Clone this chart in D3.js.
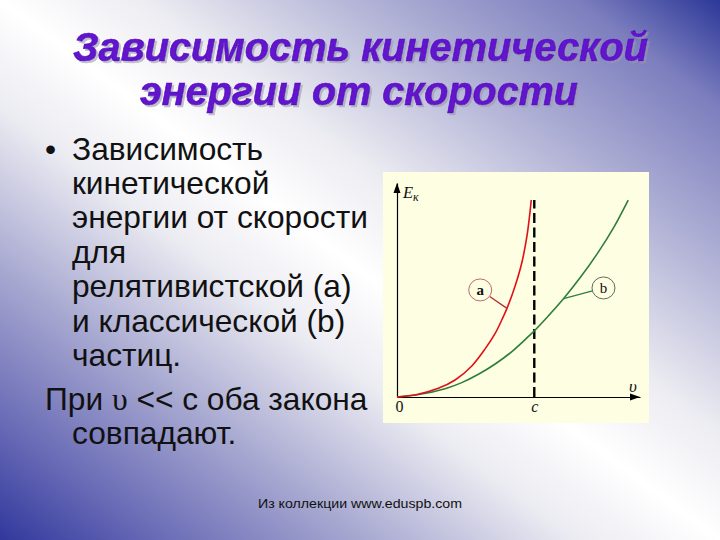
<!DOCTYPE html>
<html><head><meta charset="utf-8">
<script src="https://cdn.jsdelivr.net/npm/d3@7/dist/d3.min.js"></script>
<style>html,body{margin:0;padding:0;background:#fff;}svg{display:block;}</style>
</head><body>
<svg id="chart" width="720" height="540"></svg>
<script>
// ---- text content ----
const titleLines = ["Зависимость кинетической", "энергии от скорости"];
const bodyLines = [
  "Зависимость",
  "кинетической",
  "энергии от скорости",
  "для",
  "релятивистской (a)",
  "и классической (b)",
  "частиц.",
  "При υ << c оба закона",
  "совпадают."
];
const bulletLine = 0;
const outdentLine = 7;
const footerText = "Из коллекции www.eduspb.com";

// ---- chart data (v in units of c, E in arbitrary units) ----
const xTickValues = [0, 1];
const xTickLabels = ["0", "c"];
const yLabel = "E";
const yLabelSub = "к";
const xLabel = "υ";

const relV = [0, 0.131, 0.301, 0.423, 0.545, 0.642, 0.715, 0.764, 0.801, 0.861, 0.910, 0.947, 0.966, 0.978];
const relE = [0, 0.013, 0.057, 0.112, 0.205, 0.318, 0.420, 0.510, 0.585, 0.735, 0.890, 1.065, 1.200, 1.301];

const clsV = [0, 0.168, 0.350, 0.472, 0.593, 0.715, 0.837, 0.958, 0.995, 1.092, 1.214, 1.336, 1.458, 1.579, 1.684];
const clsE = [0, 0.018, 0.055, 0.095, 0.150, 0.218, 0.300, 0.400, 0.432, 0.525, 0.650, 0.790, 0.945, 1.120, 1.300];

const cLineV = [1, 1];
const cLineE = [0, 1.30];

const seriesLabels = ["a", "b"];
const labelPosV = [0.606, 1.504];
const labelPosE = [0.707, 0.720];
const labelTargetV = [0.801, 1.214];
const labelTargetE = [0.585, 0.650];

// ---- drawing ----
const svg = d3.select("#chart");
const W = 720, H = 540;
const defs = svg.append("defs");
const grad = defs.append("linearGradient").attr("id", "bg")
  .attr("x1", 0).attr("y1", 1).attr("x2", 1).attr("y2", 0);
[[0, "#30389c"], [0.1, "#6466b4"], [0.25, "#a6a7d0"], [0.4, "#ebebf2"], [0.5, "#ffffff"],
 [0.6, "#ececf2"], [0.75, "#b2b3d6"], [0.9, "#7c7ebe"], [1, "#2c3898"]]
  .forEach(([o, c]) => grad.append("stop").attr("offset", o).attr("stop-color", c));
const shadow = defs.append("filter").attr("id", "shadow")
  .attr("x", "-5%").attr("y", "-20%").attr("width", "110%").attr("height", "140%");
shadow.append("feDropShadow").attr("dx", 2).attr("dy", 2).attr("stdDeviation", 0.6)
  .attr("flood-color", "#9a98a8").attr("flood-opacity", 0.6);
svg.append("rect").attr("width", W).attr("height", H).attr("fill", "url(#bg)");

// title
const titleFont = "'Liberation Sans', Arial, sans-serif";
const titleBase = [61, 105];
const titleSpan = [[73, 648], [140, 578]];
titleLines.forEach((t, i) => {
  const cx = (titleSpan[i][0] + titleSpan[i][1]) / 2;
  const len = titleSpan[i][1] - titleSpan[i][0];
  svg.append("text").attr("x", cx).attr("y", titleBase[i])
    .attr("text-anchor", "middle").attr("font-family", titleFont)
    .attr("font-size", 41).attr("font-weight", "bold").attr("font-style", "italic")
    .attr("fill", "#6212cc").attr("stroke", "#5a0cc0").attr("stroke-width", 0.7)
    .attr("filter", "url(#shadow)")
    .attr("textLength", len).attr("lengthAdjust", "spacingAndGlyphs").text(t);
});

// body text
const bodyFont = "'Liberation Sans', Arial, sans-serif";
const bodyBase = [160, 194, 228, 263, 297, 332, 366, 410, 444];
const probe = svg.append("text").attr("font-family", bodyFont).attr("font-size", 27).text(bodyLines[2]);
const measured = probe.node().getComputedTextLength();
probe.remove();
const bodySize = 27 * 296 / measured;
bodyLines.forEach((t, i) => {
  const x = i === outdentLine ? 45 : 72;
  const txt = svg.append("text").attr("x", x).attr("y", bodyBase[i])
    .attr("font-family", bodyFont).attr("font-size", bodySize).attr("fill", "#111");
  const parts = t.split("υ");
  parts.forEach((p, j) => {
    if (j > 0) txt.append("tspan").attr("font-family", "'Liberation Serif', 'Times New Roman', serif").text("υ");
    txt.append("tspan").text(p);
  });
  if (i === bulletLine) {
    svg.append("text").attr("x", 45).attr("y", bodyBase[i]).attr("font-family", bodyFont)
      .attr("font-size", bodySize).attr("fill", "#111").text("•");
  }
});

// footer
svg.append("text").attr("x", 258).attr("y", 508).attr("font-family", bodyFont)
  .attr("font-size", 13).attr("fill", "#111")
  .attr("textLength", 204).attr("lengthAdjust", "spacingAndGlyphs").text(footerText);

// chart panel
svg.append("rect").attr("x", 383).attr("y", 172).attr("width", 266).attr("height", 251)
  .attr("fill", "#fefee3");

const x = d3.scaleLinear().domain([0, 1.77]).range([397, 640]);
const y = d3.scaleLinear().domain([0, 1.413]).range([397, 183]);

const serif = "'Liberation Serif', 'Times New Roman', serif";

// axes
const gx = svg.append("g").attr("transform", `translate(0,${y(0)})`)
  .call(d3.axisBottom(x).tickValues(xTickValues).tickFormat((d, i) => xTickLabels[i])
    .tickSize(0).tickSizeOuter(0).tickPadding(4));
gx.select(".domain").attr("stroke", "#000").attr("stroke-width", 1.2);
gx.selectAll(".tick text").attr("font-family", serif).attr("font-size", 16).attr("fill", "#111")
  .attr("font-style", (d, i) => i === 1 ? "italic" : "normal")
  .attr("dx", (d, i) => i === 0 ? 2 : 0);

const gy = svg.append("g").attr("transform", `translate(${x(0)},0)`)
  .call(d3.axisLeft(y).tickValues([]).tickSizeOuter(0));
gy.select(".domain").attr("stroke", "#000").attr("stroke-width", 1.2);

// arrowheads
const ax = x(1.77), ay = y(0);
svg.append("path").attr("d", `M${ax},${ay} L${ax - 10},${ay - 3.5} L${ax - 10},${ay + 3.5} Z`).attr("fill", "#000");
const bx = x(0), by = y(1.413);
svg.append("path").attr("d", `M${bx},${by} L${bx - 3.5},${by + 10} L${bx + 3.5},${by + 10} Z`).attr("fill", "#000");

// axis labels
const ek = svg.append("text").attr("x", x(0) + 6).attr("y", y(1.413) + 15)
  .attr("font-family", serif).attr("font-style", "italic").attr("font-size", 16.5).attr("fill", "#111");
ek.append("tspan").text(yLabel);
ek.append("tspan").attr("font-size", 12).attr("dy", 3).text(yLabelSub);
svg.append("text").attr("x", x(1.77) - 11).attr("y", y(0) - 5)
  .attr("font-family", serif).attr("font-style", "italic").attr("font-size", 17).attr("fill", "#111")
  .text(xLabel);

// c dashed line
svg.append("path").datum(cLineV.map((v, i) => [v, cLineE[i]]))
  .attr("d", d3.line().x(d => x(d[0])).y(d => y(d[1])))
  .attr("stroke", "#000").attr("stroke-width", 2.4).attr("stroke-dasharray", "10,4.5").attr("fill", "none");

// curves
const line = d3.line().x(d => x(d[0])).y(d => y(d[1])).curve(d3.curveCatmullRom.alpha(0.5));
svg.append("path").datum(clsV.map((v, i) => [v, clsE[i]]))
  .attr("d", line).attr("fill", "none").attr("stroke", "#2e7d3c").attr("stroke-width", 1.6);
svg.append("path").datum(relV.map((v, i) => [v, relE[i]]))
  .attr("d", line).attr("fill", "none").attr("stroke", "#e01018").attr("stroke-width", 1.6);

// series labels
const labelStroke = ["#c06a6a", "#5a6e5a"];
const leaderStroke = ["#b23030", "#2e7d3c"];
const r = 11.5;
seriesLabels.forEach((s, i) => {
  const cx = x(labelPosV[i]), cy = y(labelPosE[i]);
  const tx = x(labelTargetV[i]), ty = y(labelTargetE[i]);
  const dx = tx - cx, dy = ty - cy, dl = Math.hypot(dx, dy);
  svg.append("line").attr("x1", cx + dx / dl * r).attr("y1", cy + dy / dl * r)
    .attr("x2", tx).attr("y2", ty).attr("stroke", leaderStroke[i]).attr("stroke-width", 1.3);
  svg.append("ellipse").attr("cx", cx).attr("cy", cy).attr("rx", r).attr("ry", r - 0.5)
    .attr("fill", "#fefee3").attr("stroke", labelStroke[i]).attr("stroke-width", 1);
  svg.append("text").attr("x", cx).attr("y", cy + 5).attr("text-anchor", "middle")
    .attr("font-family", serif).attr("font-size", 15).attr("fill", "#111")
    .attr("font-weight", i === 0 ? "bold" : "normal").text(s);
});
</script>
</body></html>
